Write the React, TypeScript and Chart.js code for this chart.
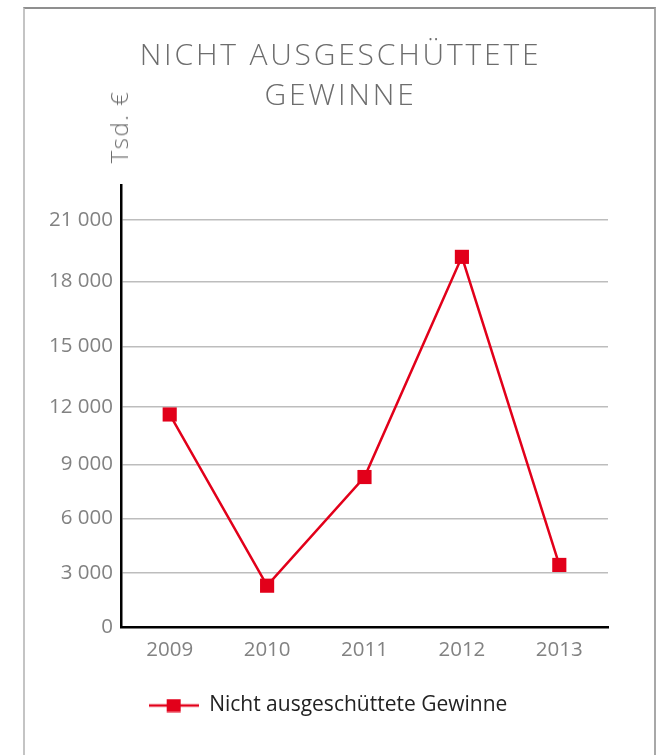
import { useEffect, useRef } from 'react';
import { Chart, LinearScale, registerables } from 'chart.js';

Chart.register(...registerables);

// ---------- data ----------
const years = ['2009', '2010', '2011', '2012', '2013'];
const gewinne = [11600, 2300, 8300, 19200, 3450];
const yTickValues = [0, 3000, 6000, 9000, 12000, 15000, 18000, 21000];
const seriesLabel = 'Nicht ausgeschüttete Gewinne';
const titleLines = ['NICHT AUSGESCHÜTTETE', 'GEWINNE'];
const unitLabel = 'Tsd. €';

// The reference value axis is not evenly spaced: piecewise-linear scale
const yAxisMax = 22700;
const yKnotValues = [...yTickValues, yAxisMax];
const yKnotFractions = [0, 0.1219, 0.2454, 0.3679, 0.4982, 0.635, 0.7817, 0.921, 1];

function toFraction(v: number): number {
  const n = yKnotValues.length;
  if (v <= yKnotValues[0]) {
    const s = (yKnotFractions[1] - yKnotFractions[0]) / (yKnotValues[1] - yKnotValues[0]);
    return yKnotFractions[0] + (v - yKnotValues[0]) * s;
  }
  for (let i = 1; i < n; i++) {
    if (v <= yKnotValues[i] || i === n - 1) {
      const t = (v - yKnotValues[i - 1]) / (yKnotValues[i] - yKnotValues[i - 1]);
      return yKnotFractions[i - 1] + t * (yKnotFractions[i] - yKnotFractions[i - 1]);
    }
  }
  return 1;
}

function fromFraction(f: number): number {
  const n = yKnotFractions.length;
  for (let i = 1; i < n; i++) {
    if (f <= yKnotFractions[i] || i === n - 1) {
      const t = (f - yKnotFractions[i - 1]) / (yKnotFractions[i] - yKnotFractions[i - 1]);
      return yKnotValues[i - 1] + t * (yKnotValues[i] - yKnotValues[i - 1]);
    }
  }
  return yAxisMax;
}

class PiecewiseScale extends LinearScale {
  static id = 'piecewise';
  static defaults = LinearScale.defaults;
  getPixelForValue(value: number) {
    return this.getPixelForDecimal(toFraction(value));
  }
  getValueForPixel(pixel: number) {
    return fromFraction(this.getDecimalForPixel(pixel));
  }
}
Chart.register(PiecewiseScale as any);

const RED = '#e2001a';
const FONT = "'Open Sans', 'DejaVu Sans', sans-serif";

function fmt(v: number): string {
  return String(Math.round(v)).replace(/\B(?=(\d{3})+(?!\d))/g, ' ');
}

export default function App() {
  const canvasRef = useRef<HTMLCanvasElement | null>(null);

  useEffect(() => {
    if (!canvasRef.current) return;
    Chart.defaults.font.family = FONT;

    const icon = document.createElement('canvas');
    icon.width = 50;
    icon.height = 14;
    const ic = icon.getContext('2d')!;
    ic.strokeStyle = RED;
    ic.lineWidth = 2.5;
    ic.beginPath();
    ic.moveTo(0, 7);
    ic.lineTo(50, 7);
    ic.stroke();
    ic.fillStyle = RED;
    ic.fillRect(18, 0.5, 14, 13);

    const chart = new Chart(canvasRef.current, {
      type: 'line',
      data: {
        labels: years,
        datasets: [
          {
            label: seriesLabel,
            data: gewinne,
            borderColor: RED,
            backgroundColor: RED,
            borderWidth: 2.5,
            pointStyle: 'rect',
            pointRadius: 10,
            pointHoverRadius: 10,
            pointBorderWidth: 0,
            pointBackgroundColor: RED,
            tension: 0,
          },
        ],
      },
      options: {
        animation: false,
        responsive: false,
        maintainAspectRatio: false,
        layout: { padding: { left: 48, right: 58, top: 185, bottom: 29 } },
        plugins: {
          title: { display: false },
          tooltip: { enabled: false },
          legend: {
            position: 'bottom',
            labels: {
              usePointStyle: true,
              pointStyleWidth: 50,
              boxHeight: 14,
              padding: 10,
              color: '#222222',
              font: { size: 21, family: FONT },
              generateLabels: (c: any) => {
                const items = (Chart.defaults.plugins.legend.labels as any).generateLabels(c);
                return items.map((it: any) => ({ ...it, pointStyle: icon }));
              },
            },
          },
        },
        scales: {
          x: {
            type: 'category',
            offset: true,
            grid: { display: false },
            border: { display: true, color: '#000000', width: 2.5 },
            ticks: { color: '#828282', font: { size: 20.5, family: FONT }, padding: 3 },
            afterFit: (s: any) => {
              s.height = 58;
            },
          },
          y: {
            type: 'piecewise' as any,
            min: 0,
            max: yAxisMax,
            afterBuildTicks: (s: any) => {
              s.ticks = yTickValues.map((value) => ({ value }));
            },
            grid: { color: '#bdbdbd', lineWidth: 1.5, drawTicks: false },
            border: { display: true, color: '#000000', width: 2.5 },
            ticks: {
              color: '#828282',
              font: { size: 20.5, family: FONT },
              padding: 8,
              callback: (v: any) => fmt(Number(v)),
            },
            afterFit: (s: any) => {
              s.width = 73;
            },
          },
        },
      } as any,
    });

    return () => chart.destroy();
  }, []);

  return (
    <div
      style={{
        position: 'fixed',
        left: 0,
        top: 0,
        width: 666,
        height: 755,
        overflow: 'hidden',
        background: '#ffffff',
      }}
    >
      <div
        style={{
          position: 'absolute',
          left: 23,
          top: 7,
          width: 629,
          height: 800,
          borderTop: '2px solid #8f8f8f',
          borderLeft: '2px solid #c4c4c4',
          borderRight: '2px solid #a8a8a8',
          boxSizing: 'content-box',
        }}
      />
      <canvas
        ref={canvasRef}
        width={666}
        height={755}
        style={{ position: 'absolute', left: 0, top: 0, display: 'block' }}
      />
      <div
        style={{
          position: 'absolute',
          left: 0,
          top: 34,
          width: 681,
          textAlign: 'center',
          fontFamily: FONT,
          fontWeight: 300,
          fontSize: 30,
          lineHeight: '40px',
          letterSpacing: '2.8px',
          color: '#6d6d6d',
          whiteSpace: 'nowrap',
        }}
      >
        {titleLines.map((t) => (
          <div key={t}>{t}</div>
        ))}
      </div>
      <div style={{ position: 'absolute', left: 119, top: 127, width: 0, height: 0 }}>
        <span
          style={{
            position: 'absolute',
            left: 0,
            top: 0,
            transform: 'translate(-50%, -50%) rotate(-90deg)',
            fontFamily: FONT,
            fontWeight: 300,
            fontSize: 24,
            lineHeight: '24px',
            letterSpacing: '1.5px',
            color: '#6d6d6d',
            whiteSpace: 'nowrap',
          }}
        >
          {unitLabel}
        </span>
      </div>
    </div>
  );
}
